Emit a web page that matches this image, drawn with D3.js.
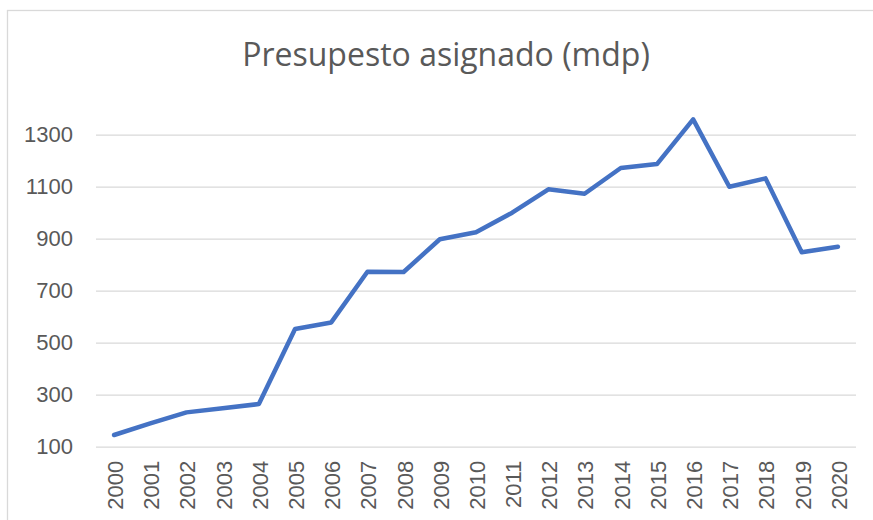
<!DOCTYPE html>
<html>
<head>
<meta charset="utf-8">
<script src="https://cdn.jsdelivr.net/npm/d3@7"></script>
<style>
  body { margin: 0; background: #fff; }
  svg { display: block; }
</style>
</head>
<body>
<svg id="chart" width="873" height="520"></svg>
<script>

let years = ["2000","2001","2002","2003","2004","2005","2006","2007","2008","2009","2010",
             "2011","2012","2013","2014","2015","2016","2017","2018","2019","2020"];

let budget = [145, 190, 232, 248, 264, 553, 578, 773, 772, 898, 925,
              1000, 1090, 1073, 1172, 1187, 1359, 1100, 1132, 848, 869];

let yTicks = [100, 300, 500, 700, 900, 1100, 1300];

let title = "Presupesto asignado (mdp)";

function draw_line(){

    let svg = d3.select("#chart"),
        margin = {top: 108.7, right: 17, bottom: 73.3, left: 96},
        width = svg.attr("width") - margin.left - margin.right,
        height = svg.attr("height") - margin.top - margin.bottom;

    let textColor = "#595959";

    // chart frame (runs off the right and bottom of the picture)
    svg.append("rect")
        .attr("x", 7.5).attr("y", 10.5)
        .attr("width", 900).attr("height", 600)
        .attr("fill", "#fff")
        .attr("stroke", "#d9d9d9")
        .attr("stroke-width", 1.3);

    svg.append("text")
        .attr("x", 446)
        .attr("y", 66)
        .attr("text-anchor", "middle")
        .style("font-family", "'Open Sans', sans-serif")
        .style("font-weight", 400)
        .style("font-size", "32px")
        .style("fill", textColor)
        .text(title);

    let x = d3.scaleBand().domain(years).range([0, width]);
    let y = d3.scaleLinear().domain([100, 1400]).range([height, 0]);

    let g = svg.append("g")
        .attr("transform", "translate(" + margin.left + "," + margin.top + ")");

    // gridlines
    g.append("g")
        .call(d3.axisLeft(y).tickValues(yTicks).tickSize(-width).tickFormat(""))
        .call(a => a.select(".domain").remove())
        .call(a => a.selectAll("line").attr("stroke", "#d9d9d9").attr("stroke-width", 1.3));

    // y labels
    g.append("g")
        .call(d3.axisLeft(y).tickValues(yTicks).tickSize(0).tickPadding(23).tickFormat(d3.format("d")))
        .call(a => a.select(".domain").remove())
        .call(a => a.selectAll("text")
              .style("font-family", "'Liberation Sans', Arial, sans-serif")
              .style("font-size", "22px")
              .style("fill", textColor));

    // x labels, rotated
    let xa = g.append("g")
        .attr("transform", "translate(0," + height + ")")
        .call(d3.axisBottom(x).tickSize(0))
        .call(a => a.select(".domain").remove());

    xa.selectAll("text")
        .attr("transform", "rotate(-90)")
        .attr("x", -14)
        .attr("y", 1)
        .attr("dy", "0.36em")
        .style("text-anchor", "end")
        .style("font-family", "'Liberation Sans', Arial, sans-serif")
        .style("font-size", "22px")
        .style("fill", textColor);

    let line = d3.line()
        .x((d, i) => x(years[i]) + x.bandwidth() / 2)
        .y(d => y(d));

    g.append("path")
        .datum(budget)
        .attr("fill", "none")
        .attr("stroke", "#4472C4")
        .attr("stroke-width", 4.5)
        .attr("stroke-linejoin", "round")
        .attr("stroke-linecap", "round")
        .attr("d", line);
};

draw_line();

</script>
</body>
</html>
